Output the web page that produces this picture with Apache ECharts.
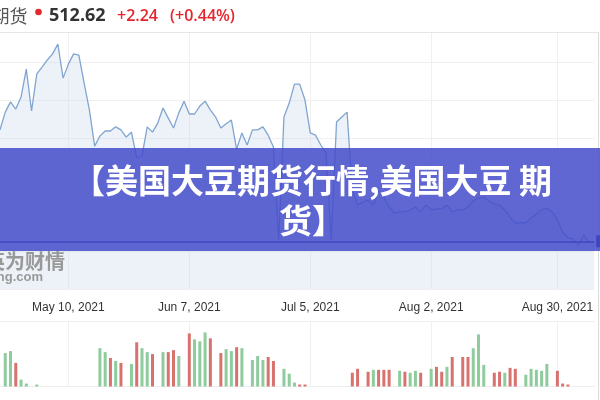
<!DOCTYPE html>
<html><head><meta charset="utf-8">
<script src="https://cdn.jsdelivr.net/npm/echarts@6/dist/echarts.min.js"></script>
<style>html,body{margin:0;padding:0;background:#fff}#c{width:600px;height:400px}</style>
</head><body><div id="c"></div>
<script>
// trading rows (one row per session)
const dates = [
 '2021-04-24',
 '2021-04-26','2021-04-27','2021-04-28','2021-04-29','2021-04-30','2021-05-01',
 '2021-05-03','2021-05-04','2021-05-05','2021-05-06','2021-05-07','2021-05-08',
 '2021-05-10','2021-05-11','2021-05-12','2021-05-13','2021-05-14','2021-05-15',
 '2021-05-17','2021-05-18','2021-05-19','2021-05-20','2021-05-21','2021-05-22',
 '2021-05-24','2021-05-25','2021-05-26','2021-05-27','2021-05-28','2021-05-29',
 '2021-06-01','2021-06-02','2021-06-03','2021-06-04','2021-06-05',
 '2021-06-07','2021-06-08','2021-06-09','2021-06-10','2021-06-11','2021-06-12',
 '2021-06-14','2021-06-15','2021-06-16','2021-06-17','2021-06-18','2021-06-19',
 '2021-06-21','2021-06-22','2021-06-23','2021-06-24','2021-06-25','2021-06-26',
 '2021-06-28','2021-06-29','2021-06-30','2021-07-01','2021-07-02',
 '2021-07-05','2021-07-07','2021-07-08','2021-07-09','2021-07-10',
 '2021-07-12','2021-07-13','2021-07-14','2021-07-15','2021-07-16','2021-07-17',
 '2021-07-19','2021-07-20','2021-07-21','2021-07-22','2021-07-23','2021-07-24',
 '2021-07-26','2021-07-27','2021-07-28','2021-07-29','2021-07-30','2021-07-31',
 '2021-08-02','2021-08-03','2021-08-04','2021-08-05','2021-08-06','2021-08-07',
 '2021-08-09','2021-08-10','2021-08-11','2021-08-12','2021-08-13','2021-08-14',
 '2021-08-16','2021-08-17','2021-08-18','2021-08-19','2021-08-20','2021-08-21',
 '2021-08-23','2021-08-24','2021-08-25','2021-08-26','2021-08-27','2021-08-28',
 '2021-08-30','2021-08-31','2021-09-01','2021-09-02','2021-09-03','2021-09-04',
 '2021-09-07','2021-09-08'
];
const tickDates  = ['2021-05-10','2021-06-07','2021-07-05','2021-08-02','2021-08-30'];
const tickLabels = ['May 10, 2021','Jun 7, 2021','Jul 5, 2021','Aug 2, 2021','Aug 30, 2021'];

const price = [
 542.1,546.8,549.5,547.6,550.8,558.2,547.1,556.9,558.7,560.6,
 562.2,564.8,555.8,559.5,562.2,561.9,554.5,547.4,537.8,540.5,
 541.8,541.8,542.9,542.1,540.2,541.5,534.7,535.2,542.9,541.5,
 543.9,547.9,545.2,542.6,546.6,549.7,546.3,546.3,548.4,549.7,
 547.4,545.5,542.6,543.7,544.7,537.0,541.3,538.1,542.1,542.1,
 542.9,540.7,537.6,513.0,545.5,549.2,554.2,554.2,550.0,541.3,
 540.7,538.1,536.0,513.0,544.2,545.5,546.8,526.2,522.2,523.0,
 523.5,522.2,526.2,524.1,521.7,520.1,520.4,520.4,520.9,521.7,
 520.4,522.2,520.9,521.2,521.2,522.2,520.4,520.9,520.9,521.7,
 523.3,524.1,524.3,523.3,522.5,522.2,520.9,519.0,517.5,517.5,
 517.5,518.8,519.8,520.9,521.4,520.4,518.3,515.1,513.5,513.2,
 511.6,514.3,512.4,512.62
];

const volume = [
 null,
 102,108,72,21,9,null,
 6,null,null,null,null,null,
 null,null,null,null,null,null,
 117,105,87,78,72,null,
 69,135,117,105,99,null,
 105,105,111,93,null,
 162,144,138,165,147,null,
 102,114,108,120,117,null,
 81,93,81,90,78,null,
 54,39,12,6,6,
 null,null,null,null,null,
 null,null,null,42,54,null,
 45,51,51,51,51,null,
 48,45,42,48,42,null,
 54,60,45,60,90,null,
 90,90,117,159,66,null,
 42,45,42,57,54,null,
 36,54,51,48,69,null,
 48,9,6,null,null,null,
 null,null
];
// 1 = up day (green), 0 = down day (red)
const volUp = [
 null,
 1,1,0,1,1,null,
 1,null,null,null,null,null,
 null,null,null,null,null,null,
 1,1,0,1,0,null,
 1,0,1,1,0,null,
 1,0,0,1,null,
 0,1,1,1,0,null,
 0,1,1,0,1,null,
 1,1,1,0,0,null,
 1,1,1,0,0,
 null,null,null,null,null,
 null,null,null,0,0,null,
 0,1,0,0,0,null,
 1,0,1,1,0,null,
 1,0,0,1,0,null,
 0,0,1,1,1,null,
 0,0,1,0,0,null,
 1,1,1,1,1,null,
 0,0,0,null,null,null,
 null,null
];

const headName = '期货';
const headLast = '512.62';
const headChange = '+2.24';
const headPct = '(+0.44%)';
const bannerLines = ['【美国大豆期货行情,美国大豆 期', '货】'];
const watermark = ['英为财情', 'Investing.com'];

const GREEN = '#8ecb9d', RED = '#d8726f';
const tickIdx = tickDates.map(d => dates.indexOf(d));
const isTick = i => tickIdx.indexOf(i) >= 0;
const labelFor = v => { const k = tickDates.indexOf(v); return k >= 0 ? tickLabels[k] : ''; };
const volData = volume.map((v, i) => v == null ? '-' : { value: v, itemStyle: { color: volUp[i] ? GREEN : RED } });
const last = price[price.length - 1];

const chart = echarts.init(document.getElementById('c'));
chart.setOption({
  animation: false,
  backgroundColor: '#fff',
  grid: [
    { left: -1.94, right: 5.8, top: 32, height: 257 },
    { left: -1.94, right: 5.8, top: 321, height: 65.5 }
  ],
  xAxis: [
    { type: 'category', gridIndex: 0, data: dates, boundaryGap: false,
      axisLine: { show: false }, axisTick: { show: false },
      axisLabel: { interval: (i) => isTick(i), formatter: labelFor, color: '#333', fontSize: 12,
                   fontFamily: 'Liberation Sans, Arial, sans-serif', margin: 13 },
      splitLine: { show: true, interval: (i) => isTick(i), lineStyle: { color: '#f0f0f0', width: 1 } } },
    { type: 'category', gridIndex: 1, data: dates, boundaryGap: false,
      axisLine: { show: false }, axisTick: { show: false }, axisLabel: { show: false },
      splitLine: { show: true, interval: (i) => isTick(i), lineStyle: { color: '#f0f0f0', width: 1 } } }
  ],
  yAxis: [
    { type: 'value', gridIndex: 0, min: 500, max: 568, interval: 10,
      axisLine: { show: false }, axisTick: { show: false }, axisLabel: { show: false },
      splitLine: { lineStyle: { color: '#f0f0f0' } } },
    { type: 'value', gridIndex: 1, min: 0, max: 200, interval: 200,
      axisLine: { show: false }, axisTick: { show: false }, axisLabel: { show: false },
      splitLine: { lineStyle: { color: '#eeeeee' } } }
  ],
  series: [
    { type: 'line', xAxisIndex: 0, yAxisIndex: 0, data: price, symbol: 'none',
      lineStyle: { color: '#80a5d0', width: 1.3 },
      areaStyle: { color: 'rgba(200,218,236,0.5)', origin: 'start' },
      markLine: { silent: true, symbol: 'none', label: { show: false },
                  lineStyle: { color: '#23318a', width: 1.5, type: 'solid' },
                  data: [{ yAxis: last }] },
      markPoint: { silent: true, label: { show: false },
                   data: [{ coord: [dates.length - 1, last], symbol: 'rect', symbolSize: [8, 12], symbolOffset: [6, 0],
                            itemStyle: { color: '#1b2a80' } }] } },
    { type: 'bar', xAxisIndex: 1, yAxisIndex: 1, data: volData, barWidth: 3 }
  ],
  graphic: [
    { type: 'line', z: 5, shape: { x1: 0, y1: 32.5, x2: 598, y2: 32.5 }, style: { stroke: '#e6e6e6', lineWidth: 1 } },
    { type: 'line', z: 5, shape: { x1: 598.5, y1: 32, x2: 598.5, y2: 400 }, style: { stroke: '#dcdcdc', lineWidth: 1 } },
    { type: 'text', z: 5, x: 27.5, y: 16, style: { text: headName, textAlign: 'right', textVerticalAlign: 'middle',
        font: '18px "Noto Sans CJK SC", sans-serif', fill: '#555' } },
    { type: 'circle', z: 5, shape: { cx: 38.5, cy: 12, r: 3.3 }, style: { fill: '#e3282e' } },
    { type: 'text', z: 5, x: 49, y: 16, style: { text: headLast, textAlign: 'left', textVerticalAlign: 'middle',
        font: 'bold 18px "Open Sans", sans-serif', fill: '#333' } },
    { type: 'text', z: 5, x: 117, y: 16, style: { text: headChange, textAlign: 'left', textVerticalAlign: 'middle',
        font: '600 16px "Open Sans", sans-serif', fill: '#e5242b' } },
    { type: 'text', z: 5, x: 170, y: 16, style: { text: headPct, textAlign: 'left', textVerticalAlign: 'middle',
        font: '600 16px "Open Sans", sans-serif', fill: '#e5242b' } },
    { type: 'text', z: 10, x: 65, y: 261, style: { text: watermark[0], textAlign: 'right', textVerticalAlign: 'middle',
        font: 'bold 20px "Noto Sans CJK SC", sans-serif', fill: '#999999' } },
    { type: 'text', z: 10, x: 43, y: 277, style: { text: watermark[1], textAlign: 'right', textVerticalAlign: 'middle',
        font: 'bold 13px "Liberation Sans", Arial, sans-serif', fill: '#999999' } },
    { type: 'rect', z: 100, shape: { x: 0, y: 148, width: 600, height: 103 }, style: { fill: 'rgba(68,76,202,0.85)' } },
    { type: 'text', z: 101, x: 312, y: 180, style: { text: bannerLines[0], textAlign: 'center', textVerticalAlign: 'middle',
        font: 'bold 33px "Noto Sans CJK SC", sans-serif', fill: '#ffffff' } },
    { type: 'text', z: 101, x: 312, y: 220, style: { text: bannerLines[1], textAlign: 'center', textVerticalAlign: 'middle',
        font: 'bold 33px "Noto Sans CJK SC", sans-serif', fill: '#ffffff' } }
  ]
});
</script>
</body></html>
